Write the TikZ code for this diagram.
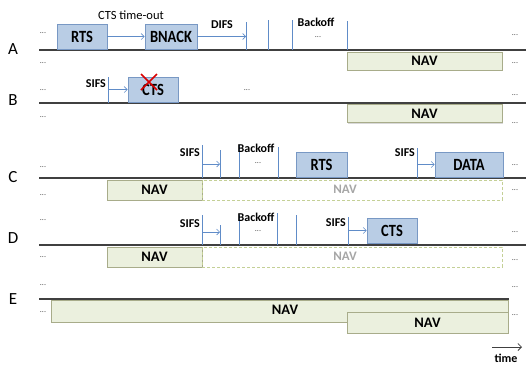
\documentclass[tikz,border=0pt]{standalone}
\usepackage{fontspec}
\usepackage{graphicx}
\setmainfont{Carlito}
\usetikzlibrary{arrows.meta,shadows}

\definecolor{pktfill}{RGB}{185,205,229}
\definecolor{pktedge}{RGB}{120,152,196}
\definecolor{navfill}{RGB}{235,240,222}
\definecolor{navedge}{RGB}{168,172,138}
\definecolor{navdash}{RGB}{196,208,150}
\definecolor{tickcol}{RGB}{96,140,200}
\definecolor{axis}{RGB}{64,64,64}

% packet names are set a little taller than wide
\newcommand{\pkttext}[1]{\scalebox{1}[1.18]{#1}}

\tikzset{
  pkt/.style={draw=pktedge, fill=pktfill, line width=0.8pt, inner sep=0pt,
    minimum height=25pt, font=\fontsize{14.5}{14.5}\selectfont\bfseries,
    drop shadow={shadow xshift=1pt, shadow yshift=-1pt, opacity=0.25}},
  nav/.style={draw=navedge, fill=navfill, line width=0.6pt, inner sep=0pt,
    font=\fontsize{14.5}{14.5}\selectfont\bfseries,
    drop shadow={shadow xshift=1pt, shadow yshift=-1pt, opacity=0.3}},
  navghost/.style={draw=navdash, dash pattern=on 3pt off 2pt, line width=0.8pt,
    inner sep=0pt, text=black!35, font=\fontsize{13}{13}\selectfont\bfseries},
  stalabel/.style={font=\fontsize{17}{17}\selectfont, inner sep=0pt},
  dots/.style={font=\fontsize{8}{8}\selectfont, text=axis, inner sep=0pt},
  tick/.style={draw=tickcol, line width=0.6pt},
  gap/.style={tick, -{Straight Barb[length=3pt,width=6pt]}},
  timeline/.style={draw=axis, line width=1.1pt},
  lbl/.style={font=\fontsize{12}{12}\selectfont\bfseries, inner sep=0pt},
  lblplain/.style={font=\fontsize{12.5}{12.5}\selectfont, inner sep=0pt},
}

\begin{document}
\begin{tikzpicture}[x=1pt, y=-1pt]
\useasboundingbox (0,0) rectangle (526,365);

% ---------- station labels ----------
\node[stalabel] (sA) at (13,49) {A};
\node[stalabel] (sB) at (13,100) {B};
\node[stalabel] (sC) at (13,177) {C};
\node[stalabel] (sD) at (13,238) {D};
\node[stalabel] (sE) at (13,299) {E};

% ---------- time lines ----------
\coordinate (lAl) at (39,50);  \coordinate (lAr) at (526,50);
\coordinate (lBl) at (39,103); \coordinate (lBr) at (526,103);
\coordinate (lCl) at (39,178); \coordinate (lCr) at (526,178);
\coordinate (lDl) at (39,245); \coordinate (lDr) at (526,245);
\coordinate (lEl) at (39,299); \coordinate (lEr) at (509,299);
\draw[timeline] (lAl) -- (lAr);
\draw[timeline] (lBl) -- (lBr);
\draw[timeline] (lCl) -- (lCr);
\draw[timeline] (lDl) -- (lDr);
\draw[timeline] (lEl) -- (lEr);

% ---------- continuation dots ----------
\foreach \y [count=\i] in {33,63,90,117,167,195,220,257,285,312}
  \node[dots] (dl\i) at (43,\y) {...};
\foreach \y [count=\i] in {35,63,95,123,165,190,232,260,287,315}
  \node[dots] (dr\i) at (515,\y) {...};

% ---------- station A ----------
\node[pkt, minimum width=50pt] (rtsA) at (82,36.5) {\pkttext{RTS}};
\node[pkt, minimum width=52pt] (bnack) at (171,36.5) {\pkttext{BNACK}};
\node[lblplain] (cto) at (131,15) {CTS time-out};
\draw[gap] (rtsA.east) -- (bnack.west);
\coordinate (aT1t) at (246,22); \coordinate (aT1b) at (246,50);
\coordinate (aT2t) at (268,20); \coordinate (aT2b) at (268,50);
\coordinate (aT3t) at (292,20); \coordinate (aT3b) at (292,50);
\coordinate (aT4t) at (347,21); \coordinate (aT4b) at (347,50);
\draw[tick] (aT1t) -- (aT1b);
\draw[tick] (aT2t) -- (aT2b);
\draw[tick] (aT3t) -- (aT3b);
\draw[tick] (aT4t) -- (aT4b);
\draw[gap] (bnack.east) -- (bnack.east -| aT1t);
\node[lbl] (difs) at (222,25) {DIFS};
\node[lbl] (boA) at (316,22) {Backoff};
\node[dots] (boAd) at (318,37) {...};
\node[nav, minimum width=155pt, minimum height=18pt] (navA) at (424.5,61) {NAV};

% ---------- station B ----------
\coordinate (bT1t) at (108,77); \coordinate (bT1b) at (108,103);
\draw[tick] (bT1t) -- (bT1b);
\node[pkt, minimum width=50pt] (ctsB) at (153,89.5) {\pkttext{CTS}};
\draw[gap] (ctsB.west -| bT1t) -- (ctsB.west);
\node[lbl, anchor=east] (sifsB) at (106,84) {SIFS};
\draw[red!85!black, line width=1.6pt] (141,74) -- (157,90) (157,74) -- (141,90);
\node[dots] (bmid) at (247,90) {...};
\node[nav, minimum width=155pt, minimum height=18pt] (navB) at (424.5,113.5) {NAV};

% ---------- station C ----------
\coordinate (cT1t) at (202,145); \coordinate (cT1b) at (202,178);
\coordinate (cT2t) at (220,150); \coordinate (cT2b) at (220,178);
\coordinate (cT3t) at (239,145); \coordinate (cT3b) at (239,178);
\coordinate (cT4t) at (278,147); \coordinate (cT4b) at (278,178);
\coordinate (cT5t) at (417,148); \coordinate (cT5b) at (417,178);
\draw[tick] (cT1t) -- (cT1b);
\draw[tick] (cT2t) -- (cT2b);
\draw[tick] (cT3t) -- (cT3b);
\draw[tick] (cT4t) -- (cT4b);
\draw[tick] (cT5t) -- (cT5b);
\coordinate (cA1) at (202,164);
\draw[gap] (cA1) -- (cA1 -| cT2t);
\node[lbl, anchor=east] (sifsC1) at (200,153) {SIFS};
\node[lbl] (boC) at (256,148) {Backoff};
\node[dots] (boCd) at (258,163) {...};
\node[pkt, minimum width=51pt] (rtsC) at (321.5,164.5) {\pkttext{RTS}};
\node[pkt, minimum width=68pt] (data) at (469,164.5) {\pkttext{DATA}};
\draw[gap] (data.west -| cT5t) -- (data.west);
\node[lbl, anchor=east] (sifsC2) at (415,153) {SIFS};
\node[nav, minimum width=95pt, minimum height=20pt] (navC) at (154.5,190) {NAV};
\node[navghost, minimum width=300pt, minimum height=20pt] (navCg) at (352,190) {};
\node[navghost, draw=none, inner sep=0pt] (navCt) at (345,189) {NAV};

% ---------- station D ----------
\coordinate (dT1t) at (202,215); \coordinate (dT1b) at (202,245);
\coordinate (dT2t) at (220,225); \coordinate (dT2b) at (220,245);
\coordinate (dT3t) at (239,215); \coordinate (dT3b) at (239,245);
\coordinate (dT4t) at (277,213); \coordinate (dT4b) at (277,245);
\coordinate (dT5t) at (296,215); \coordinate (dT5b) at (296,245);
\coordinate (dT6t) at (348,217); \coordinate (dT6b) at (348,245);
\draw[tick] (dT1t) -- (dT1b);
\draw[tick] (dT2t) -- (dT2b);
\draw[tick] (dT3t) -- (dT3b);
\draw[tick] (dT4t) -- (dT4b);
\draw[tick] (dT5t) -- (dT5b);
\draw[tick] (dT6t) -- (dT6b);
\coordinate (dA1) at (202,232);
\draw[gap] (dA1) -- (dA1 -| dT2t);
\node[lbl, anchor=east] (sifsD1) at (200,224) {SIFS};
\node[lbl] (boD) at (256,217) {Backoff};
\node[dots] (boDd) at (258,231) {...};
\node[pkt, minimum width=50pt] (ctsD) at (392,230.5) {\pkttext{CTS}};
\draw[gap] (ctsD.west -| dT6t) -- (ctsD.west);
\node[lbl, anchor=east] (sifsD2) at (346,223) {SIFS};
\node[nav, minimum width=95pt, minimum height=20pt] (navD) at (154.5,257) {NAV};
\node[navghost, minimum width=300pt, minimum height=20pt] (navDg) at (352,257) {};
\node[navghost, draw=none, inner sep=0pt] (navDt) at (345,256) {NAV};

% ---------- station E ----------
\node[nav, minimum width=457pt, minimum height=22pt] (navE1) at (279.5,311) {};
\node[font=\fontsize{14.5}{14.5}\selectfont\bfseries, inner sep=0pt] (navE1t) at (285,310) {NAV};
\node[nav, minimum width=161pt, minimum height=21pt] (navE2) at (427.5,322.5) {NAV};

% ---------- time axis ----------
\coordinate (t0) at (492,347); \coordinate (t1) at (522,347);
\draw[draw=axis, line width=0.8pt, -{Straight Barb[length=3.5pt,width=7pt]}] (t0) -- (t1);
\node[lbl] (time) at (506,358) {time};

\end{tikzpicture}
\end{document}
